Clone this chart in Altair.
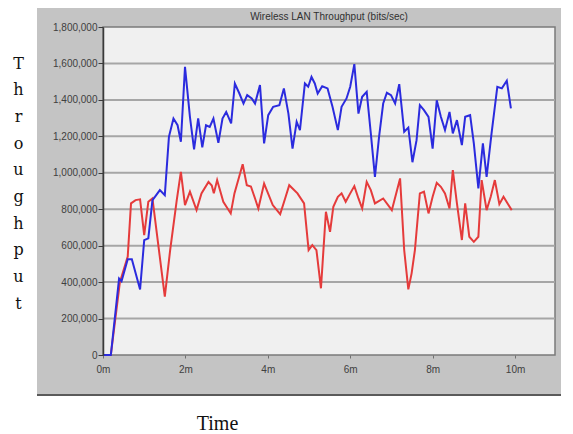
import altair as alt
import pandas as pd

# ---- data (time in minutes, throughput in bits/sec) ----
blue_t = [0.00, 0.19, 0.39, 0.45, 0.60, 0.70, 0.90, 1.00, 1.10, 1.20, 1.26, 1.38, 1.50,
          1.60, 1.71, 1.81, 1.89, 1.99, 2.11, 2.21, 2.31, 2.41, 2.50, 2.59, 2.68, 2.80,
          2.90, 2.99, 3.11, 3.20, 3.31, 3.41, 3.50, 3.61, 3.69, 3.81, 3.91, 4.01, 4.13,
          4.28, 4.39, 4.50, 4.60, 4.70, 4.78, 4.90, 4.98, 5.06, 5.14, 5.21, 5.32, 5.45,
          5.57, 5.70, 5.79, 5.91, 6.00, 6.10, 6.20, 6.29, 6.40, 6.50, 6.60, 6.70, 6.80,
          6.89, 6.99, 7.09, 7.19, 7.31, 7.41, 7.51, 7.61, 7.69, 7.79, 7.90, 8.00, 8.10,
          8.20, 8.30, 8.41, 8.49, 8.59, 8.71, 8.79, 8.91, 9.00, 9.11, 9.22, 9.31, 9.43,
          9.57, 9.68, 9.80, 9.90]
blue_v = [0, 0, 420000, 405000, 525000, 525000, 360000, 630000, 640000, 850000, 868000,
          905000, 877000, 1197000, 1298000, 1261000, 1170000, 1581000, 1307000, 1128000,
          1298000, 1139000, 1261000, 1252000, 1298000, 1164000, 1298000, 1334000, 1271000,
          1490000, 1435000, 1380000, 1426000, 1408000, 1380000, 1481000, 1161000, 1316000,
          1362000, 1371000, 1463000, 1325000, 1133000, 1280000, 1234000, 1490000, 1472000,
          1526000, 1490000, 1435000, 1475000, 1463000, 1362000, 1234000, 1362000, 1408000,
          1472000, 1596000, 1325000, 1417000, 1444000, 1216000, 978000, 1197000, 1380000,
          1439000, 1426000, 1380000, 1486000, 1225000, 1248000, 1058000, 1179000, 1371000,
          1344000, 1307000, 1133000, 1398000, 1307000, 1234000, 1334000, 1216000, 1289000,
          1152000, 1307000, 1316000, 1161000, 914000, 1161000, 978000, 1216000, 1472000,
          1463000, 1505000, 1353000]

red_t = [0.00, 0.19, 0.41, 0.60, 0.68, 0.79, 0.90, 1.00, 1.10, 1.20, 1.50, 1.63, 1.79,
         1.89, 1.99, 2.11, 2.27, 2.39, 2.56, 2.64, 2.69, 2.77, 2.92, 3.10, 3.19, 3.39,
         3.49, 3.59, 3.69, 3.77, 3.91, 4.12, 4.30, 4.42, 4.52, 4.72, 4.88, 4.99, 5.08,
         5.18, 5.29, 5.41, 5.51, 5.59, 5.70, 5.79, 5.89, 6.00, 6.10, 6.20, 6.29, 6.40,
         6.50, 6.60, 6.80, 7.01, 7.21, 7.31, 7.41, 7.49, 7.57, 7.69, 7.79, 7.90, 8.00,
         8.10, 8.20, 8.30, 8.41, 8.49, 8.59, 8.71, 8.79, 8.89, 9.00, 9.11, 9.19, 9.31,
         9.41, 9.51, 9.62, 9.72, 9.92]
red_v = [0, 0, 400000, 540000, 832000, 850000, 854000, 658000, 841000, 859000, 320000,
         576000, 850000, 1005000, 823000, 896000, 795000, 887000, 950000, 930000, 887000,
         960000, 841000, 777000, 887000, 1047000, 932000, 925000, 859000, 804000, 941000,
         823000, 773000, 859000, 932000, 887000, 832000, 576000, 603000, 576000, 366000,
         786000, 676000, 813000, 868000, 887000, 841000, 887000, 927000, 859000, 804000,
         950000, 905000, 832000, 859000, 795000, 969000, 576000, 360000, 448000, 576000,
         887000, 896000, 777000, 868000, 945000, 923000, 887000, 804000, 1015000, 832000,
         631000, 832000, 649000, 621000, 649000, 960000, 795000, 868000, 960000, 828000,
         868000, 795000]

y_ticks = [0, 200000, 400000, 600000, 800000, 1000000, 1200000, 1400000, 1600000, 1800000]
grid_vals = [200000, 400000, 600000, 800000, 1000000, 1200000, 1400000, 1600000]
x_ticks = [0, 2, 4, 6, 8, 10]
red_color = "#e53b3b"
blue_color = "#2b2bde"
y_title = list("Throughput")
x_title = "Time"
chart_title = "Wireless LAN Throughput (bits/sec)"

W, H = 452, 328

red_df = pd.DataFrame({"t": red_t, "v": red_v})
blue_df = pd.DataFrame({"t": blue_t, "v": blue_v})

xs = alt.Scale(domain=[0, 10.97], nice=False, zero=False)
ys = alt.Scale(domain=[0, 1800000], nice=False)

yaxis = alt.Axis(values=y_ticks, format=",d", grid=False, domainColor="#3a3a3a",
                 domainWidth=1.5, tickColor="#3a3a3a", tickSize=5, labelFontSize=10,
                 labelFont="Liberation Sans", labelColor="#404040", labelPadding=1,
                 title=y_title, titleAngle=0, titleX=-85, titleY=41, titleAlign="center",
                 titleBaseline="alphabetic", titleFont="DejaVu Serif", titleFontSize=16,
                 titleLineHeight=26.7, titleColor="#111111", titleFontWeight="normal",
                 zindex=1)
xaxis = alt.Axis(values=x_ticks, labelExpr="datum.value + 'm'", grid=False, domain=False,
                 tickColor="#707070", tickSize=3, labelFontSize=10, labelFont="Liberation Sans",
                 labelColor="#404040", labelPadding=6, labelFlush=False, labelOverlap=False,
                 title=x_title, titleX=114, titleY=74, titleAlign="center",
                 titleBaseline="alphabetic", titleFont="Liberation Serif", titleFontSize=20,
                 titleFontWeight="normal", titleColor="#111111", zindex=1)

one = pd.DataFrame({"k": [0]})

panel = alt.Chart(one).mark_rect(color="#c4c4c4").encode(
    x=alt.value(-66), x2=alt.value(459), y=alt.value(-19), y2=alt.value(368))
edge = alt.Chart(one).mark_rule(color="#5a5a5a", strokeWidth=2).encode(
    x=alt.value(-66), x2=alt.value(459), y=alt.value(368))
plotbg = alt.Chart(one).mark_rect(fill="#f0f0f0", stroke="#7a7a7a", strokeWidth=1.5).encode(
    x=alt.value(0), x2=alt.value(W), y=alt.value(0), y2=alt.value(H))
title = alt.Chart(one).mark_text(fontSize=10, font="Liberation Sans", color="#303030",
                                 align="center", baseline="alphabetic").encode(
    x=alt.value(W / 2), y=alt.value(-7), text=alt.value(chart_title))
grid = alt.Chart(pd.DataFrame({"g": grid_vals})).mark_rule(color="#a6a6a6", strokeWidth=2).encode(
    y=alt.Y("g:Q", scale=ys, axis=yaxis))
red_line = alt.Chart(red_df).mark_line(strokeWidth=2, color=red_color).encode(
    x=alt.X("t:Q", scale=xs, axis=xaxis),
    y=alt.Y("v:Q", scale=ys, axis=yaxis),
)
blue_line = alt.Chart(blue_df).mark_line(strokeWidth=2, color=blue_color).encode(
    x=alt.X("t:Q", scale=xs, axis=xaxis),
    y=alt.Y("v:Q", scale=ys, axis=yaxis),
)

chart = alt.layer(panel, edge, plotbg, title, grid, red_line, blue_line).properties(
    width=W, height=H,
    padding={"left": 95, "top": 19, "right": 6, "bottom": 79},
    autosize=alt.AutoSizeParams(type="none"),
    background="white",
).configure_view(stroke=None)

chart.save("out.html", embed_options={"renderer": "svg", "actions": False})
